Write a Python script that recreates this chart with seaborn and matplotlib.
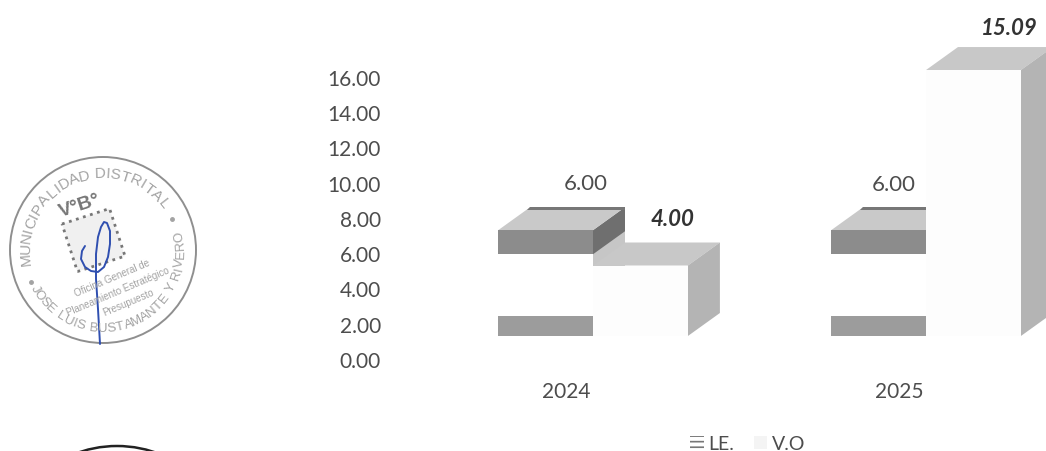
import numpy as np
import pandas as pd
import seaborn as sns
import matplotlib.pyplot as plt
from matplotlib.patches import Circle, Patch, Polygon, Rectangle
from matplotlib.transforms import Affine2D, ScaledTranslation

# chart values
years = ["2024", "2025"]
series = ["LE.", "V.O"]
le_values = [6.00, 6.00]
vo_values = [4.00, 15.09]
y_ticks = [0, 2, 4, 6, 8, 10, 12, 14, 16]

W, H = 1046, 452
FLOOR_PX, UNIT_PX = 360, 17.625
GROUP_LEFT, GROUP_PX = 593, 333
AX_LEFT = 395

# fake 3d depth, in data units
DX = 32 / GROUP_PX
DY = 23 / UNIT_PX
BAND_TOP = 24 / UNIT_PX
BAND_LOW = 20 / UNIT_PX

TEXT = "#4d4d4d"
sns.set_style("white")
plt.rcParams["font.family"] = ["Lato", "DejaVu Sans"]
plt.rcParams["hatch.linewidth"] = 1.2

df = pd.DataFrame({
    "year": years * 2,
    "serie": [series[0]] * 2 + [series[1]] * 2,
    "value": le_values + vo_values,
})

fig = plt.figure(figsize=(W / 100, H / 100), dpi=100)
ax = fig.add_axes([AX_LEFT / W, (H - FLOOR_PX) / H, (W - AX_LEFT) / W, FLOOR_PX / H])

sns.barplot(data=df, x="year", y="value", hue="serie", hue_order=series, order=years,
            palette=["#ffffff", "#fdfdfd"], width=0.57, gap=0, legend=False, ax=ax,
            linewidth=0, errorbar=None, zorder=3)

ax.set_xlim((AX_LEFT - GROUP_LEFT) / GROUP_PX, (W - GROUP_LEFT) / GROUP_PX)
ax.set_ylim(0, FLOOR_PX / UNIT_PX)
ax.set_yticks(y_ticks)
ax.set_yticklabels([f"{v:.2f}" for v in y_ticks])
ax.tick_params(axis="y", length=0, pad=10, labelsize=15, labelcolor=TEXT)
ax.tick_params(axis="x", length=0, pad=16, labelsize=15, labelcolor=TEXT)
ax.set_xlabel("")
ax.set_ylabel("")
ax.patch.set_alpha(0)
sns.despine(ax=ax, left=True, bottom=True)

# year labels sit under the middle of the floor, not under the bar join
for lab in ax.get_xticklabels():
    lab.set_transform(lab.get_transform() + ScaledTranslation(-27 / 100, 0, fig.dpi_scale_trans))


def face(pts, color, z):
    ax.add_patch(Polygon(pts, closed=True, facecolor=color, edgecolor="none", zorder=z, clip_on=False))


bars = [p for p in ax.patches if p.get_height() > 0]
le_bars = [p for p in bars if p.get_x() + p.get_width() / 2 < 0 or 0.5 < p.get_x() + p.get_width() / 2 < 1]
vo_bars = [p for p in bars if p not in le_bars]

for p in bars:
    p.set_y(DY)
    p.set_clip_on(False)

for p in le_bars:
    x0, x1, top = p.get_x(), p.get_x() + p.get_width(), DY + p.get_height()
    p.set_zorder(2.2)
    # side face, light below the dark band
    face([(x1, top), (x1 + DX, top + DY), (x1 + DX, DY + DY), (x1, DY)], "#c6c6c6", 2.0)
    face([(x1, top), (x1 + DX, top + DY), (x1 + DX, top + DY - BAND_TOP), (x1, top - BAND_TOP)], "#6f6f6f", 2.1)
    # top face with the darker back edge
    face([(x0, top), (x1, top), (x1 + DX, top + DY), (x0 + DX, top + DY)], "#c9c9c9", 2.1)
    face([(x0 + DX * 0.9, top + DY * 0.88), (x1 + DX, top + DY * 0.88), (x1 + DX, top + DY), (x0 + DX, top + DY)], "#777777", 2.15)
    # bands on the front
    ax.add_patch(Rectangle((x0, top - BAND_TOP), p.get_width(), BAND_TOP, facecolor="#8c8c8c", edgecolor="none", zorder=2.3))
    ax.add_patch(Rectangle((x0, DY), p.get_width(), BAND_LOW, facecolor="#9c9c9c", edgecolor="none", zorder=2.3))

for p in vo_bars:
    x0, x1, top = p.get_x(), p.get_x() + p.get_width(), DY + p.get_height()
    p.set_zorder(3.2)
    face([(x0, top), (x1, top), (x1 + DX, top + DY), (x0 + DX, top + DY)], "#c8c8c8", 3.0)
    face([(x1, top), (x1 + DX, top + DY), (x1 + DX, DY + DY), (x1, DY)], "#b4b4b4", 3.0)

# value labels: normal for LE., bold italic for V.O
le_offsets = [(40, 47), (15, 46)]
vo_offsets = [(32, 47), (36, 43)]
for p, v, off in zip(le_bars, le_values, le_offsets):
    ax.annotate(f"{v:.2f}", (p.get_x() + p.get_width() / 2, DY + v), xytext=(off[0] * 0.72, off[1] * 0.72),
                textcoords="offset points", ha="center", va="center", fontsize=16, color=TEXT, zorder=5,
                annotation_clip=False)
for p, v, off in zip(vo_bars, vo_values, vo_offsets):
    ax.annotate(f"{v:.2f}", (p.get_x() + p.get_width() / 2, DY + v), xytext=(off[0] * 0.72, off[1] * 0.72),
                textcoords="offset points", ha="center", va="center", fontsize=16, color="#333333",
                fontweight="bold", fontstyle="italic", zorder=5, annotation_clip=False)

# legend, low on the page and partly faded in the scan
handles = [Patch(facecolor="white", edgecolor="#777777", hatch="---", linewidth=0),
           Patch(facecolor="#f4f4f4", edgecolor="none")]
fig.legend(handles, series, loc="center left", bbox_to_anchor=(690 / W, (H - 445) / H), ncol=2, frameon=False,
           fontsize=14, labelcolor=TEXT, handlelength=0.7, handleheight=0.6, handletextpad=0.25,
           columnspacing=1.0, borderpad=0, borderaxespad=0)

# stamp and signature on a pixel overlay
st = fig.add_axes([0, 0, 1, 1], zorder=-1)
st.set_xlim(0, W)
st.set_ylim(H, 0)
st.axis("off")
CX, CY, R = 103, 251, 93
GREY = "#a3a3a3"
st.add_patch(Circle((CX, CY), R, fill=False, edgecolor="#8f8f8f", linewidth=1.4))


def arc_text(txt, start, end, radius, clockwise, size):
    # narrow letters take less of the arc
    w = np.array([0.5 if ch in "I J" else 1.0 for ch in txt])
    pos = (np.cumsum(w) - w / 2) / w.sum()
    for ch, f in zip(txt, pos):
        th = start + (end - start) * f
        a = np.radians(th)
        st.text(CX + radius * np.cos(a), CY - radius * np.sin(a), ch, ha="center", va="center",
                fontsize=size, color=GREY, rotation=th - 90 if clockwise else th + 90,
                rotation_mode="anchor", family="Liberation Sans")


arc_text("MUNICIPALIDAD DISTRITAL", 190, 34, 77, True, 11)
arc_text("JOSE LUIS BUSTAMANTE Y RIVERO", 208, 374, 78, False, 9.5)
st.plot([31, 172], [283, 220], ls="none", marker="o", ms=2.5, color=GREY)
st.text(80, 206, "V°B°", fontsize=14, fontweight="bold", color="#777777", rotation=18, ha="center", va="center",
        family="Liberation Sans")
st.add_patch(Rectangle((0, 0), 50, 50, fill=True, facecolor="#f0f0f0", edgecolor="#777777", linewidth=2, linestyle=":",
                       transform=Affine2D().rotate_deg(-18).translate(62, 225) + st.transData))
for txt, x, y in [("Oficina General de", 112, 278), ("Planeamiento Estratégico", 118, 292), ("Presupuesto", 128, 303)]:
    st.text(x, y, txt, fontsize=7, color=GREY, rotation=23, ha="center", va="center", family="Liberation Sans")

sign_x = [100, 98, 96, 96, 98, 101, 104, 107, 110, 110, 108, 104, 98, 91, 85, 81, 82, 85]
sign_y = [345, 310, 280, 255, 238, 228, 223, 224, 232, 245, 258, 268, 273, 272, 268, 260, 252, 247]
st.plot(sign_x, sign_y, color="#2f4fb0", linewidth=1.4)

# edge of a second stamp at the bottom of the page
st.add_patch(Circle((117, 565), 118, fill=False, edgecolor="#222222", linewidth=1.8))

fig.savefig("out.png", dpi=100)
